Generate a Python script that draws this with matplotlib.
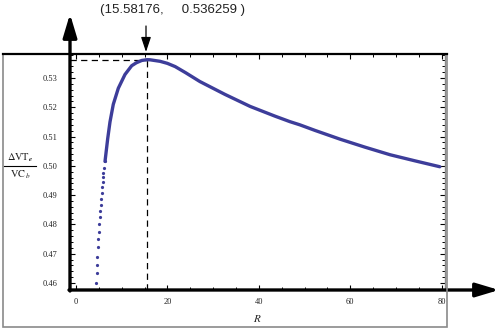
import matplotlib
matplotlib.use("Agg")
import matplotlib.pyplot as plt
from matplotlib.ticker import MultipleLocator
from matplotlib.lines import Line2D
from matplotlib.patches import Rectangle

plt.rcParams['mathtext.fontset'] = 'stix'

# sparse sample dots on the steep rising part
r_dots = [4.38, 4.53, 4.66, 4.68, 4.81, 4.83, 4.97, 5.03, 5.19, 5.25, 5.40,
          5.47, 5.62, 5.75, 5.84, 5.94, 5.99, 6.13, 6.35]
v_dots = [0.4601, 0.4633, 0.4662, 0.4690, 0.4724, 0.4749, 0.4775, 0.4802,
          0.4824, 0.4847, 0.4867, 0.4886, 0.4906, 0.4929, 0.4946, 0.4963,
          0.4975, 0.4992, 0.5015]

# dense part of the curve
r_curve = [6.35, 6.94, 7.44, 8.16, 9.26, 10.72, 11.5, 12.19, 13.2, 14.4,
           15.58, 16.2, 18.4, 20.0, 21.7, 24.0, 27.1, 32.6, 38.1, 43.5, 46.8,
           49.0, 52.3, 57.8, 63.2, 68.7, 74.2, 79.6]
v_curve = [0.5015, 0.5093, 0.5150, 0.5210, 0.5265, 0.5312, 0.5328, 0.5342,
           0.5352, 0.5360, 0.536259, 0.53622, 0.5357, 0.5350, 0.5339, 0.5318,
           0.5288, 0.5244, 0.5203, 0.5170, 0.5151, 0.5140, 0.5121, 0.5091,
           0.5064, 0.5038, 0.5017, 0.4997]

peak_r = 15.58176
peak_v = 0.536259
x_ticks = [0, 20, 40, 60, 80]
y_ticks = [0.46, 0.47, 0.48, 0.49, 0.50, 0.51, 0.52, 0.53]
y_tick_labels = ['0.46', '0.47', '0.48', '0.49', '0.50', '0.51', '0.52', '0.53']

W, H = 500, 335
fig = plt.figure(figsize=(W / 100, H / 100), dpi=100)
fig.patch.set_facecolor('white')

# outer gray frame
fig.add_artist(Rectangle((3 / W, (H - 327) / H), 444 / W, 273 / H,
                         transform=fig.transFigure, fill=False,
                         edgecolor='#8a8a8a', lw=1.2))

ax = fig.add_axes([70 / W, 45 / H, 375 / W, 236 / H])
ax.set_xlim(-1.31, 80.74)
ax.set_ylim(0.4576, 0.5382)

col = '#3d3d9a'
ax.plot(r_curve, v_curve, color=col, lw=2.4, solid_capstyle='round',
        solid_joinstyle='round', zorder=3)
ax.plot(r_dots, v_dots, 'o', color=col, ms=2.3, mew=0, zorder=3)

# dashed guide lines to the maximum
ax.plot([-1.31, peak_r], [peak_v, peak_v], color='black', lw=0.9,
        dashes=(5, 3.5), zorder=2)
ax.plot([peak_r, peak_r], [0.4576, peak_v], color='black', lw=0.9,
        dashes=(5, 3.5), zorder=2)

# ticks
ax.set_xticks(x_ticks)
ax.xaxis.set_minor_locator(MultipleLocator(5))
ax.set_yticks(y_ticks)
ax.set_yticklabels(y_tick_labels)
ax.yaxis.set_minor_locator(MultipleLocator(0.002))
ax.tick_params(axis='both', which='major', direction='in', length=3.5,
               width=0.8, colors='black', labelsize=6, top=True, right=True)
ax.tick_params(axis='both', which='minor', direction='in', length=2,
               width=0.7, colors='black', top=True, right=True)
ax.tick_params(axis='y', pad=9)
ax.tick_params(axis='x', pad=5.5)
for lab in ax.get_xticklabels() + ax.get_yticklabels():
    lab.set_fontfamily('Liberation Serif')
    lab.set_color('#222222')

for s in ['left', 'bottom', 'top']:
    ax.spines[s].set_visible(False)
ax.spines['right'].set_color('#8a8a8a')
ax.spines['right'].set_linewidth(1.0)

# top black line across the frame
fig.add_artist(Line2D([3 / W, 447 / W], [(H - 54) / H, (H - 54) / H],
                      transform=fig.transFigure, color='black', lw=1.6))

# arrow axes
ax.annotate('', xy=(70, H - 14), xytext=(70, H - 291),
            xycoords='figure pixels', textcoords='figure pixels',
            arrowprops=dict(arrowstyle='-|>,head_length=1.4,head_width=0.42',
                            lw=2.4, color='black', shrinkA=0, shrinkB=0,
                            mutation_scale=10))
ax.annotate('', xy=(499, H - 290), xytext=(69, H - 290),
            xycoords='figure pixels', textcoords='figure pixels',
            arrowprops=dict(arrowstyle='-|>,head_length=1.4,head_width=0.42',
                            lw=2.4, color='black', shrinkA=0, shrinkB=0,
                            mutation_scale=10))

# peak annotation
fig.text(172 / W, (H - 10) / H, '(15.58176,     0.536259 )',
         ha='center', va='center', fontsize=9.5, family='Liberation Sans',
         color='#222222')
ax.annotate('', xy=(146, H - 52), xytext=(146, H - 26),
            xycoords='figure pixels', textcoords='figure pixels',
            arrowprops=dict(arrowstyle='-|>,head_length=0.9,head_width=0.3',
                            lw=0.9, color='black', shrinkA=0, shrinkB=0,
                            mutation_scale=10))

# axis labels
fig.text(257 / W, (H - 319) / H, r'$R$', ha='center', va='center',
         fontsize=8, color='#222222')
fig.text(20 / W, (H - 158) / H, r'$\Delta\mathrm{VT}_{\boldsymbol{e}}$',
         ha='center', va='center', fontsize=7.5, color='#222222')
fig.text(20 / W, (H - 175) / H, r'$\mathrm{VC}_{\,b}$', ha='center',
         va='center', fontsize=7.5, color='#222222')
fig.add_artist(Line2D([4 / W, 36 / W], [(H - 166) / H, (H - 166) / H],
                      transform=fig.transFigure, color='black', lw=0.8))

fig.savefig('out.png', dpi=100)
